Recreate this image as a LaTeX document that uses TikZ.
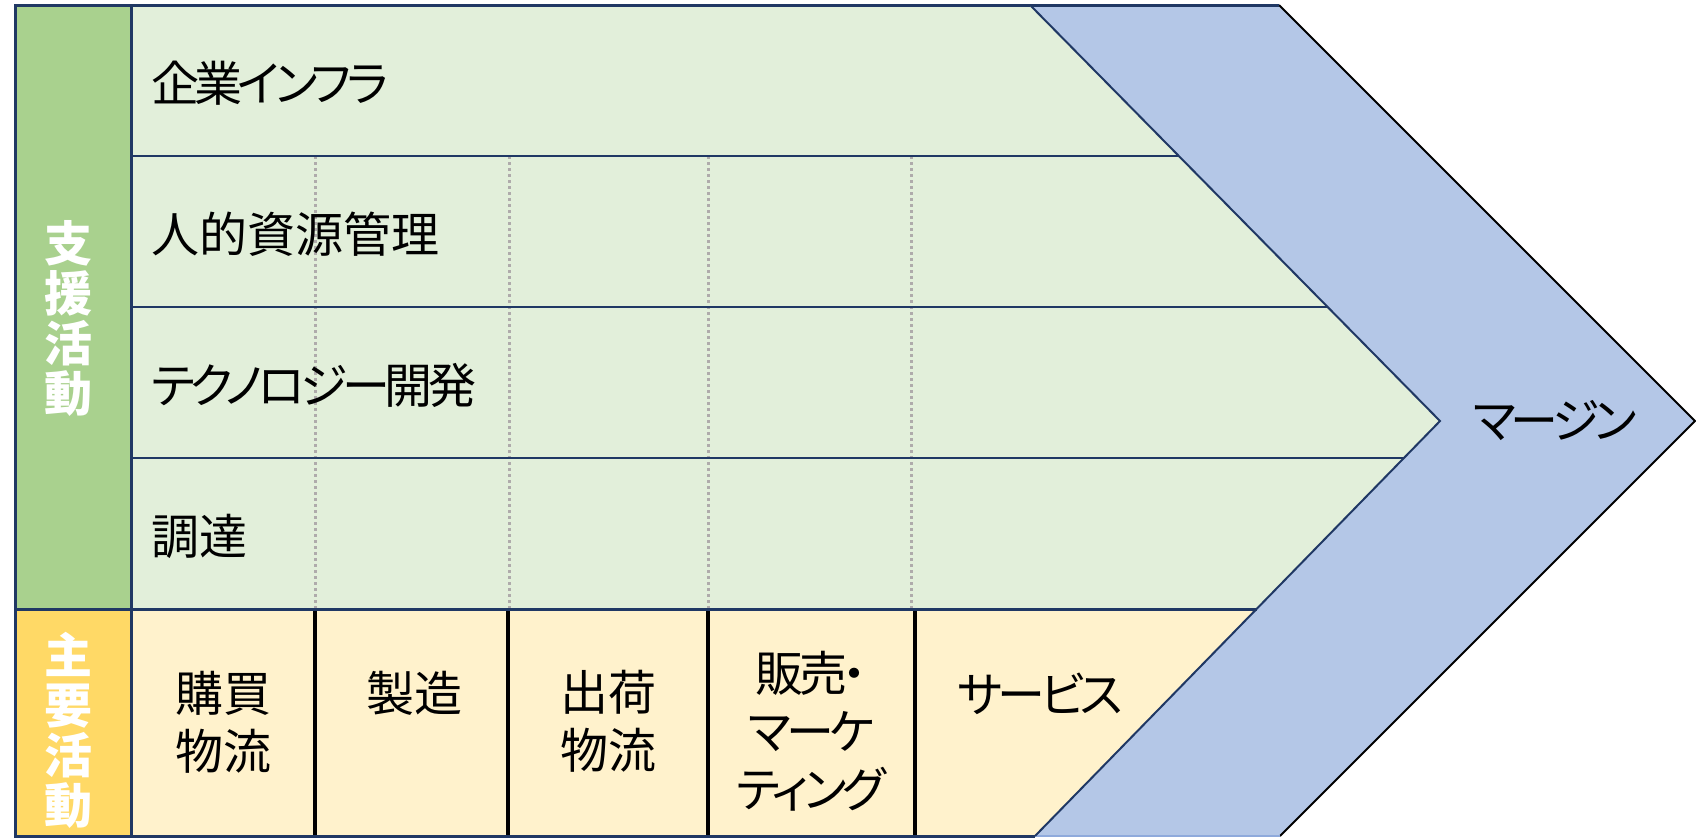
\documentclass[tikz,border=0pt]{standalone}
\usepackage{fontspec}
\setmainfont{Noto Sans CJK JP}[RawFeature=+palt]
\usetikzlibrary{positioning}
\definecolor{supportbg}{HTML}{E2EFDA}
\definecolor{supportside}{HTML}{A9D18E}
\definecolor{primarybg}{HTML}{FFF2CC}
\definecolor{primaryside}{HTML}{FFD966}
\definecolor{marginbg}{HTML}{B4C7E7}
\definecolor{marginedge}{HTML}{8FAADC}
\definecolor{navyline}{HTML}{203864}
\definecolor{dotgray}{HTML}{AFABAB}

\begin{document}
\begin{tikzpicture}[
        x=0.5pt, y=-0.5pt,
        frame/.style={draw=navyline, line width=1.5pt},
        rowline/.style={draw=navyline, line width=1pt},
        dotline/.style={draw=dotgray, line width=1.5pt, dash pattern=on 1.5pt off 1.5pt},
        sepline/.style={draw=black, line width=1.6pt},
        sidelabel/.style={align=center, text=white, font=\fontsize{24pt}{25pt}\selectfont\bfseries},
        supportlabel/.style={anchor=west, font=\fontsize{24pt}{29pt}\selectfont},
        primarylabel/.style={align=center, font=\fontsize{24pt}{29pt}\selectfont},
        kana/.style={font=\fontsize{24pt}{29pt}\selectfont\addfontfeature{LetterSpace=-10}}
    ]
    \useasboundingbox (0,0) rectangle (1696,837);

    % Chevron corners
    \coordinate (ctop) at (1030,5);
    \coordinate (ctip) at (1440,421);
    \coordinate (cbot) at (1035,836);
    \coordinate (otop) at (1279,5);
    \coordinate (otip) at (1695,421);
    \coordinate (obot) at (1280,836);

    % Margin band
    \fill[marginbg] (ctop) -- (otop) -- (otip) -- (obot) -- (cbot) -- (ctip) -- cycle;
    \draw[black, line width=1pt] (otop) -- (otip) -- (obot);
    \draw[marginedge, line width=1pt] (cbot) -- (obot);
    \draw[navyline, line width=1.5pt] (ctop) -- (otop);

    % Support activities
    \fill[supportbg] (131,5) -- (ctop) -- (ctip) -- (1256.5,609) -- (131,609) -- cycle;
    \fill[supportside] (15,5) rectangle (131,609);

    % Primary activities
    \fill[primarybg] (131,609) -- (1256.5,609) -- (cbot) -- (131,836) -- cycle;
    \fill[primaryside] (15,609) rectangle (131,836);

    % Dotted columns
    \foreach \cx in {315,509,708,911}
        \draw[dotline] (\cx,156) -- (\cx,609);

    % Rows
    \draw[rowline] (131,156) -- (1178.8,156);
    \draw[rowline] (131,307) -- (1327.6,307);
    \draw[rowline] (131,458) -- (1403.9,458);
    \draw[rowline] (ctop) -- (ctip) -- (cbot);

    % Primary separators
    \foreach \cx in {315,508,708,915}
        \draw[sepline] (\cx,609) -- (\cx,836);

    % Frame
    \draw[frame] (ctop) -- (15,5) -- (15,836) -- (cbot);
    \draw[frame] (131,5) -- (131,836);
    \draw[frame] (15,609) -- (1256.5,609);

    % Labels
    \node[sidelabel] (support) at (68,318) {支\\援\\活\\動};
    \node[sidelabel] (primary) at (68,730) {主\\要\\活\\動};

    \node[supportlabel, kana] (infra) at (144,83) {企業インフラ};
    \node[supportlabel] (hrm) at (144,234) {人的資源管理};
    \node[supportlabel, kana] (tech) at (144,385) {テクノロジー開発};
    \node[supportlabel] (proc) at (144,536) {調達};

    \node[primarylabel] (inbound) at (223,722) {購買\\物流};
    \node[primarylabel] (ops) at (414,693) {製造};
    \node[primarylabel] (outbound) at (608,721) {出荷\\物流};
    \node[primarylabel, kana] (sales) at (811,731) {販売・\\マーケ\\ティング};
    \node[primarylabel, kana] (service) at (1040,694) {サービス};

    \node[primarylabel, kana] (margin) at (1555,421) {マージン};

    \end{tikzpicture}
\end{document}
